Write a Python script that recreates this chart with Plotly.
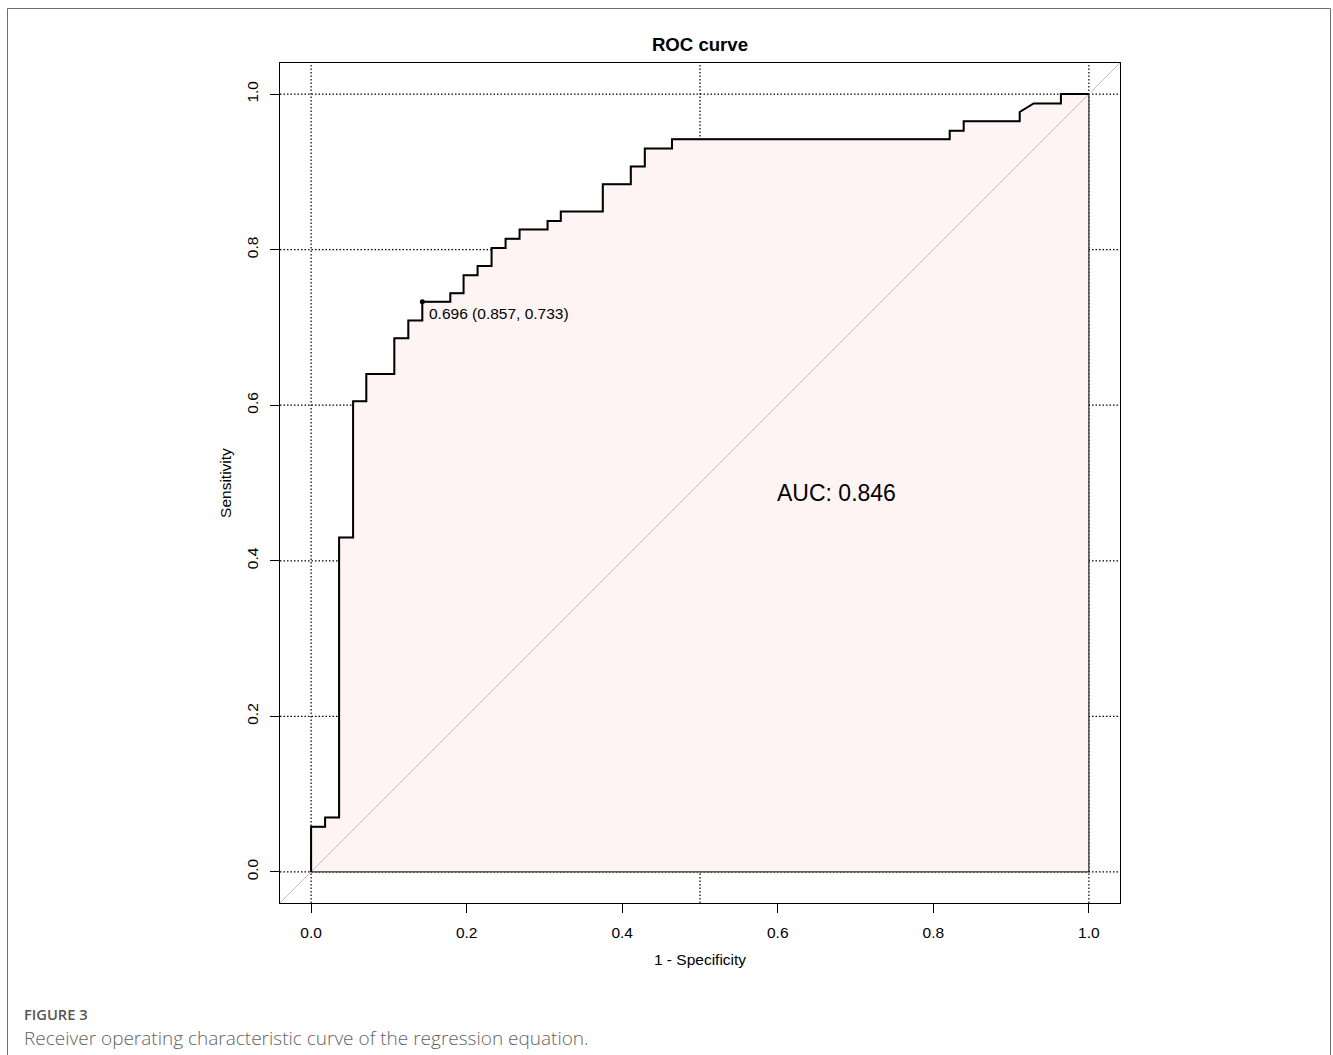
import plotly.graph_objects as go

# ---------------- data ----------------
title_text = "ROC curve"
x_label = "1 - Specificity"
y_label = "Sensitivity"
tick_values = [0.0, 0.2, 0.4, 0.6, 0.8, 1.0]
tick_labels = ["0.0", "0.2", "0.4", "0.6", "0.8", "1.0"]
grid_x = [0.0, 0.5, 1.0]
grid_y = [0.0, 0.2, 0.4, 0.6, 0.8, 1.0]

# ROC curve vertices: 1 - specificity (x) and sensitivity (y)
one_minus_spec = [0.000, 0.000, 0.018, 0.018, 0.036, 0.036, 0.054, 0.054, 0.071, 0.071,
                  0.107, 0.107, 0.125, 0.125, 0.143, 0.143, 0.179, 0.179, 0.196, 0.196,
                  0.214, 0.214, 0.232, 0.232, 0.250, 0.250, 0.268, 0.268, 0.304, 0.304,
                  0.321, 0.321, 0.375, 0.375, 0.411, 0.411, 0.429, 0.429, 0.464, 0.464,
                  0.821, 0.821, 0.839, 0.839, 0.911, 0.911, 0.929, 0.964, 0.964, 1.000]
sensitivity = [0.000, 0.058, 0.058, 0.070, 0.070, 0.430, 0.430, 0.605, 0.605, 0.640,
               0.640, 0.686, 0.686, 0.709, 0.709, 0.733, 0.733, 0.744, 0.744, 0.767,
               0.767, 0.779, 0.779, 0.802, 0.802, 0.814, 0.814, 0.826, 0.826, 0.837,
               0.837, 0.849, 0.849, 0.884, 0.884, 0.907, 0.907, 0.930, 0.930, 0.942,
               0.942, 0.953, 0.953, 0.965, 0.965, 0.977, 0.988, 0.988, 1.000, 1.000]

best_fpr = [0.143]
best_sens = [0.733]
best_label = "0.696 (0.857, 0.733)"
auc_label = "AUC: 0.846"
auc_x = 0.675
auc_y = 0.487
caption_head = "FIGURE 3"
caption_text = "Receiver operating characteristic curve of the regression equation."
axis_range = [-0.04, 1.04]

# ---------------- layout helpers ----------------
W, H = 1333, 1055
ML, MR, MT, MB = 280, 213, 63, 152
PW, PH = W - ML - MR, H - MT - MB


def pxx(px):
    return (px - ML) / PW


def pxy(py):
    return (H - MB - py) / PH


FONT = "Arial, Liberation Sans, sans-serif"
CAP_FONT = "Open Sans, Noto Sans, sans-serif"

fig = go.Figure()

# AUC polygon (filled area under the curve, thin black border, closed explicitly)
poly_x = one_minus_spec + [1.0, one_minus_spec[0]]
poly_y = sensitivity + [0.0, sensitivity[0]]
fig.add_trace(go.Scatter(
    x=poly_x, y=poly_y,
    mode="lines", fill="toself", fillcolor="#FEF4F4",
    line=dict(color="black", width=1), hoverinfo="skip", showlegend=False))

# identity line
fig.add_trace(go.Scatter(
    x=axis_range, y=axis_range, mode="lines",
    line=dict(color="#BEBEBE", width=1), hoverinfo="skip", showlegend=False))

# ROC curve
fig.add_trace(go.Scatter(
    x=one_minus_spec, y=sensitivity, mode="lines",
    line=dict(color="black", width=2), showlegend=False))

# best threshold point
fig.add_trace(go.Scatter(
    x=best_fpr, y=best_sens, mode="markers",
    marker=dict(color="black", size=5), showlegend=False))

shapes = []
for gx in grid_x:
    shapes.append(dict(type="line", xref="x", yref="y domain", x0=gx, x1=gx, y0=0, y1=1,
                       line=dict(color="black", width=1.2, dash="1.5px,2px"), layer="below"))
for gy in grid_y:
    shapes.append(dict(type="line", xref="x domain", yref="y", x0=0, x1=1, y0=gy, y1=gy,
                       line=dict(color="black", width=1.2, dash="1.5px,2px"), layer="below"))
# outer figure frame
shapes.append(dict(type="rect", xref="paper", yref="paper",
                   x0=pxx(7.5), x1=pxx(1330.5), y0=pxy(1075), y1=pxy(8.5),
                   line=dict(color="#6e6e6e", width=1), layer="above"))

annotations = [
    dict(x=best_fpr[0], y=best_sens[0], xref="x", yref="y", text=best_label,
         showarrow=False, xanchor="left", yanchor="middle", xshift=5, yshift=-12,
         font=dict(family=FONT, size=15.5, color="black")),
    dict(x=auc_x, y=auc_y, xref="x", yref="y", text=auc_label, showarrow=False,
         xanchor="center", yanchor="middle", font=dict(family=FONT, size=23, color="black")),
    dict(x=pxx(22), y=pxy(1014), xref="paper", yref="paper", text=caption_head,
         showarrow=False, xanchor="left", yanchor="middle",
         font=dict(family=CAP_FONT, size=14.7, color="#555555", weight=600)),
    dict(x=pxx(22), y=pxy(1038), xref="paper", yref="paper", text=caption_text,
         showarrow=False, xanchor="left", yanchor="middle",
         font=dict(family=CAP_FONT, size=19, color="#636363", weight=300)),
]

axis_common = dict(
    range=axis_range, tickvals=tick_values, ticktext=tick_labels,
    ticks="outside", ticklen=9, tickwidth=1, tickcolor="black",
    showline=True, mirror=True, linecolor="black", linewidth=1,
    showgrid=False, zeroline=False,
    tickfont=dict(family=FONT, size=15.5, color="black"),
)

fig.update_layout(
    width=W, height=H, autosize=False,
    margin=dict(l=ML, r=MR, t=MT, b=MB, pad=0),
    paper_bgcolor="white", plot_bgcolor="white",
    title=dict(text=title_text, x=0.5, xref="paper", xanchor="center",
               y=1 - 44 / H, yref="container", yanchor="middle",
               font=dict(family=FONT, size=18.6, color="black", weight="bold")),
    xaxis=dict(**axis_common, ticklabelstandoff=6,
               title=dict(text=x_label, standoff=14,
                          font=dict(family=FONT, size=15.5, color="black"))),
    yaxis=dict(**axis_common, tickangle=-90, ticklabelstandoff=6,
               title=dict(text=y_label, standoff=8,
                          font=dict(family=FONT, size=15.5, color="black"))),
    shapes=shapes, annotations=annotations, showlegend=False,
)

fig.write_html("out.html", config={"displayModeBar": False},
               post_script="document.body.style.margin='0';document.body.style.overflow='hidden';")
